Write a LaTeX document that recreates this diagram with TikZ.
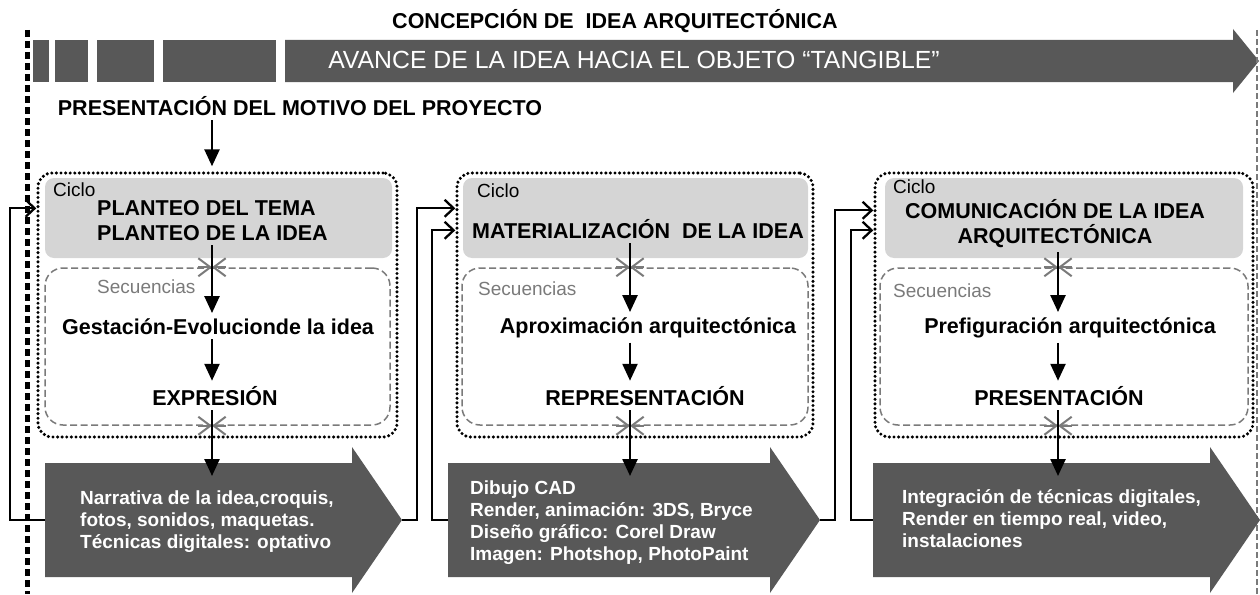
\documentclass[tikz,border=0pt]{standalone}
\usepackage{fontspec}
\setmainfont{Liberation Sans}
\usetikzlibrary{arrows.meta}

\definecolor{bandgray}{HTML}{585858}
\definecolor{cyclegray}{HTML}{D5D5D5}
\definecolor{seqgray}{HTML}{7A7A7A}

\tikzset{
	heading/.style={font=\bfseries\fontsize{21.5}{25}\selectfont, inner sep=0pt},
	ciclolabel/.style={font=\fontsize{19}{22}\selectfont, anchor=base west, inner sep=0pt},
	seqlabel/.style={font=\fontsize{19}{22}\selectfont, text=seqgray, anchor=base west, inner sep=0pt},
	stagetext/.style={font=\bfseries\fontsize{21.5}{25}\selectfont, anchor=base, inner sep=0pt},
	arrowtext/.style={font=\bfseries\fontsize{19}{21.8}\selectfont, text=white, align=left, anchor=base west, inner sep=0pt},
	cyclebox/.style={rectangle, rounded corners=14pt, draw=black, line width=3.4pt, dash pattern=on 0pt off 4.6pt, line cap=round},
	headbox/.style={rectangle, rounded corners=9pt, fill=cyclegray},
	seqbox/.style={rectangle, rounded corners=18pt, draw=seqgray, line width=1.5pt, dash pattern=on 7pt off 3.5pt},
	flow/.style={line width=2.5pt, -{Triangle[length=17pt, width=15pt]}, shorten <=5pt, shorten >=5pt},
	feedback/.style={line width=2.3pt, -{Straight Barb[length=9pt, width=17pt]}},
	seqtip/.style={draw=seqgray, line width=2pt, -{Straight Barb[length=12pt, width=18pt]}},
}

\newcommand{\BigArrow}[5]{% name, shaft start, head start, tip, axis
	\fill[bandgray] (#2,463) -- (#3,463) -- (#3,447) -- (#4,520) -- (#3,593) -- (#3,577) -- (#2,577) -- cycle;
	\coordinate (#1w) at (#2,520);
	\coordinate (#1e) at (#4,520);
	\coordinate (#1n) at (#5,481);
}
\newcommand{\SeqCross}[1]{%
	\draw[seqtip] ([xshift=-14pt]#1) -- (#1);
	\draw[seqtip] ([xshift=14pt]#1) -- (#1);
}

\begin{document}
\begin{tikzpicture}[x=1pt, y=-1pt]

\useasboundingbox (0,0) rectangle (1260,594);

% band across the top
\foreach \a/\b in {33/49, 55/88, 97/154, 163/276}
	\fill[bandgray] (\a,40) rectangle (\b,82);
\fill[bandgray] (285,40) -- (1233,40) -- (1233,29) -- (1259,61) -- (1233,93) -- (1233,82) -- (285,82) -- cycle;

\draw[line width=5pt, dash pattern=on 7pt off 4pt] (27,30) -- (27,594);
\draw[seqgray, line width=1.2pt, dash pattern=on 6pt off 3pt] (1257,30) -- (1257,594);

\node (concep) at (615,29) [heading, anchor=base] {CONCEPCIÓN DE\ \ IDEA ARQUITECTÓNICA};
\node (avance) at (634,68) [anchor=base, inner sep=0pt, text=white, font=\fontsize{24.8}{28}\selectfont] {AVANCE DE LA IDEA HACIA EL OBJETO “TANGIBLE”};
\node (motivo) at (300,115) [heading, anchor=base] {PRESENTACIÓN DEL MOTIVO DEL PROYECTO};

\coordinate (ax1) at (212,0);
\coordinate (ax2) at (630,0);
\coordinate (ax3) at (1058,0);

% first cycle
\node (cyc1) at (217.5,305) [cyclebox, minimum width=359pt, minimum height=264pt] {};
\node (hd1) at (218.5,218) [headbox, minimum width=347pt, minimum height=80pt] {};
\node (seq1) at (217.5,346.5) [seqbox, minimum width=345pt, minimum height=157pt] {};
\node (ci1) at (53,196) [ciclolabel] {Ciclo};
\node (ht1) at (97,240) [heading, anchor=base west, align=left] {PLANTEO DEL TEMA\\PLANTEO DE LA IDEA};
\node (se1) at (97,293) [seqlabel] {Secuencias};
\node (st1) at (218,334) [stagetext] {Gestación-Evolucionde la idea};
\node (ex1) at (215,405) [stagetext] {EXPRESIÓN};

% second cycle
\node (cyc2) at (635,305) [cyclebox, minimum width=356pt, minimum height=264pt] {};
\node (hd2) at (635.5,218) [headbox, minimum width=345pt, minimum height=80pt] {};
\node (seq2) at (635,346.5) [seqbox, minimum width=346pt, minimum height=157pt] {};
\node (ci2) at (477,197) [ciclolabel] {Ciclo};
\node (ht2) at (472,238) [heading, anchor=base west] {MATERIALIZACIÓN\ \ DE LA IDEA};
\node (se2) at (478,295) [seqlabel] {Secuencias};
\node (st2) at (648,333) [stagetext] {Aproximación arquitectónica};
\node (ex2) at (645,405) [stagetext] {REPRESENTACIÓN};

% third cycle
\node (cyc3) at (1064,305) [cyclebox, minimum width=378pt, minimum height=264pt] {};
\node (hd3) at (1064,218) [headbox, minimum width=358pt, minimum height=80pt] {};
\node (seq3) at (1064,346.5) [seqbox, minimum width=368pt, minimum height=157pt] {};
\node (ci3) at (893,193) [ciclolabel] {Ciclo};
\node (ht3) at (1055,243) [heading, anchor=base, align=center] {COMUNICACIÓN DE LA IDEA\\ARQUITECTÓNICA};
\node (se3) at (893,297) [seqlabel] {Secuencias};
\node (st3) at (1070,333) [stagetext] {Prefiguración arquitectónica};
\node (ex3) at (1059,405) [stagetext] {PRESENTACIÓN};

% big arrows
\BigArrow{a1}{45}{352}{402}{212}
\BigArrow{a2}{448}{770}{820}{630}
\BigArrow{a3}{873}{1210}{1260}{1058}
\node (tx1) at (80,548) [arrowtext] {Narrativa de la idea,croquis,\\fotos, sonidos, maquetas.\\Técnicas digitales: optativo};
\node (tx2) at (470,560) [arrowtext] {Dibujo CAD\\Render, animación: 3DS, Bryce\\Diseño gráfico: Corel Draw\\Imagen: Photshop, PhotoPaint};
\node (tx3) at (902,547) [arrowtext] {Integración de técnicas digitales,\\Render en tiempo real, video,\\instalaciones};

% crossings on the sequence boxes
\foreach \i in {1,2,3} {
	\coordinate (xt\i) at (ax\i |- seq\i.north);
	\coordinate (xb\i) at (ax\i |- seq\i.south);
	\SeqCross{xt\i}
	\SeqCross{xb\i}
}

% flow down each cycle
\draw[flow] (ax1 |- motivo.south) -- (ax1 |- cyc1.north);
\foreach \i in {1,2,3} {
	\draw[flow] (ax\i |- ht\i.south) -- (ax\i |- st\i.north);
	\draw[flow] (ax\i |- st\i.south) -- (ax\i |- ex\i.north);
	\draw[flow] (ax\i |- ex\i.south) -- (a\i n);
}

% feedback into the cycles
\coordinate (in1) at ([yshift=-37pt]cyc1.north west);
\coordinate (in2a) at ([yshift=-37pt]cyc2.north west);
\coordinate (in2b) at ([yshift=-59pt]cyc2.north west);
\coordinate (in3a) at ([yshift=-39pt]cyc3.north west);
\coordinate (in3b) at ([yshift=-59pt]cyc3.north west);
\draw[feedback] (a1w) -- ++(-35,0) |- (in1);
\draw[feedback] (a1e) -- ++(15,0) |- (in2a);
\draw[feedback] (a2w) -- ++(-16,0) |- (in2b);
\draw[feedback] (a2e) -- ++(15,0) |- (in3a);
\draw[feedback] (a3w) -- ++(-22,0) |- (in3b);

\end{tikzpicture}
\end{document}
